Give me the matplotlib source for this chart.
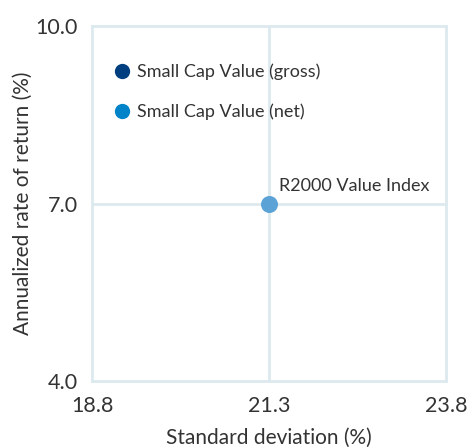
import matplotlib
matplotlib.use('Agg')
import matplotlib.pyplot as plt
from matplotlib.lines import Line2D

plt.rcParams['font.family'] = ['Lato', 'DejaVu Sans']

# data
index_name = 'R2000 Value Index'
index_sd = [21.3]
index_ret = [7.0]
series_names = ['Small Cap Value (gross)', 'Small Cap Value (net)']
series_colors = ['#003f7f', '#0083c8']
x_ticks = [18.8, 21.3, 23.8]
y_ticks = [4.0, 7.0, 10.0]

frame_color = '#dce9ee'
text_color = '#333333'

fig = plt.figure(figsize=(4.69, 4.47), dpi=100)
ax = fig.add_axes([92 / 469, 1 - 381 / 447, 354 / 469, 355 / 447])

ax.set_xlim(x_ticks[0], x_ticks[-1])
ax.set_ylim(y_ticks[0], y_ticks[-1])

# crosshair through the index
ax.axvline(index_sd[0], color=frame_color, lw=2, zorder=1)
ax.axhline(index_ret[0], color=frame_color, lw=2, zorder=1)

ax.scatter(index_sd, index_ret, s=150, color='#5ba3d6', zorder=3, linewidths=0)
ax.annotate(index_name, (index_sd[0], index_ret[0]), xytext=(7, 7),
            textcoords='offset points', fontsize=13, color=text_color,
            ha='left', va='bottom')

for s in ax.spines.values():
    s.set_color(frame_color)
    s.set_linewidth(2)

ax.set_xticks(x_ticks)
ax.set_xticklabels(['%.1f' % v for v in x_ticks])
ax.set_yticks(y_ticks)
ax.set_yticklabels(['%.1f' % v for v in y_ticks])
ax.tick_params(length=0, labelsize=15.5, labelcolor=text_color, pad=10)
ax.tick_params(axis='x', pad=11)

ax.set_xlabel('Standard deviation (%)', fontsize=15, color=text_color, labelpad=8)
ax.set_ylabel('Annualized rate of return (%)', fontsize=15, color=text_color, labelpad=2)

handles = [Line2D([], [], marker='o', ls='', markersize=11, color=c, markeredgewidth=0)
           for c in series_colors]
leg = ax.legend(handles, series_names, loc='upper left', bbox_to_anchor=(0.038, 0.915),
                frameon=False, fontsize=13, handletextpad=0.35, labelspacing=1.3,
                handlelength=1.0, borderaxespad=0)
for t in leg.get_texts():
    t.set_color(text_color)

fig.savefig('out.png', dpi=100)
